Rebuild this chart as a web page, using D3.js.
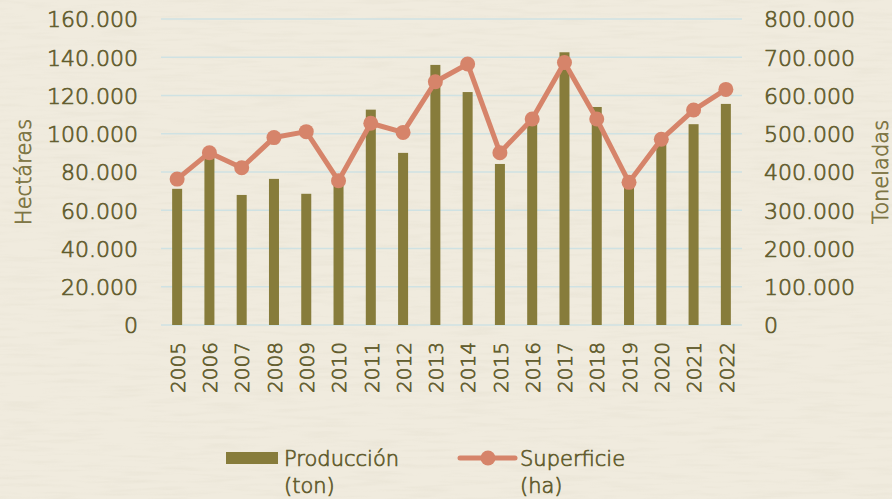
<!DOCTYPE html>
<html>
<head>
<meta charset="utf-8">
<script src="https://cdn.jsdelivr.net/npm/d3@7"></script>
<style>
  html, body { margin: 0; padding: 0; background: #efe9da; }
  svg { display: block; }
  text { font-family: "DejaVu Sans", sans-serif; font-weight: 200; }
</style>
</head>
<body>
<svg id="chart" width="892" height="499"></svg>
<script>
const years = ["2005","2006","2007","2008","2009","2010","2011","2012","2013","2014","2015","2016","2017","2018","2019","2020","2021","2022"];
const produccion = [356000, 440000, 340000, 382000, 343000, 366000, 563000, 450000, 680000, 609000, 421000, 528000, 713000, 570000, 361000, 475000, 525000, 578000];
const superficie = [76300, 90100, 82200, 98000, 101100, 75400, 105500, 100700, 127200, 136500, 90100, 107700, 137200, 107700, 74600, 97100, 112400, 123200];
const leftTicks = [0, 20000, 40000, 60000, 80000, 100000, 120000, 140000, 160000];
const rightTicks = [0, 100000, 200000, 300000, 400000, 500000, 600000, 700000, 800000];
const leftTitle = "Hectáreas";
const rightTitle = "Toneladas";
const legendBar = ["Producción", "(ton)"];
const legendLine = ["Superficie", "(ha)"];

const svg = d3.select("#chart");
const W = 892, H = 499;
const plot = {left: 161, right: 742, top: 19, bottom: 325};

// background texture
const defs = svg.append("defs");
const filt = defs.append("filter").attr("id", "paper").attr("x", 0).attr("y", 0).attr("width", "100%").attr("height", "100%");
filt.append("feTurbulence").attr("type", "fractalNoise").attr("baseFrequency", "0.02 0.25").attr("numOctaves", 3).attr("seed", 7).attr("result", "noise");
filt.append("feColorMatrix").attr("in", "noise").attr("type", "matrix")
  .attr("values", "0 0 0 0 0.62  0 0 0 0 0.58  0 0 0 0 0.46  0 0 0 -1.4 0.78");
svg.append("rect").attr("width", W).attr("height", H).attr("fill", "#f0ebde");
svg.append("rect").attr("width", W).attr("height", H).attr("filter", "url(#paper)").attr("opacity", 0.22);

const x = d3.scalePoint().domain(years).range([plot.left, plot.right]).padding(0.5);
const yL = d3.scaleLinear().domain([0, 160000]).range([plot.bottom, plot.top]);
const yR = d3.scaleLinear().domain([0, 800000]).range([plot.bottom, plot.top]);
const barW = x.step() * 0.31;

const loc = d3.formatLocale({decimal: ",", thousands: ".", grouping: [3], currency: ["", ""]});
const fmt = loc.format(",");

const textCol = "#615b2c";
const titleCol = "#7d7443";
const sw = 0.7;

function styleText(sel, size, col) {
  sel.attr("font-size", size).attr("fill", col).attr("font-family", "DejaVu Sans").attr("font-weight", 200)
     .attr("stroke", col).attr("stroke-width", sw).attr("paint-order", "stroke");
}

// gridlines
svg.append("g").selectAll("line").data(leftTicks).join("line")
  .attr("x1", plot.left).attr("x2", plot.right)
  .attr("y1", d => yL(d)).attr("y2", d => yL(d))
  .attr("stroke", "#cfe2e3").attr("stroke-width", 1.5);

// left axis
const axL = svg.append("g").attr("transform", `translate(${plot.left - 23},0)`)
  .call(d3.axisLeft(yL).tickValues(leftTicks).tickFormat(fmt).tickSize(0).tickPadding(0));
axL.select(".domain").remove();
styleText(axL.selectAll("text").attr("dy", "0.36em"), 22, textCol);

// right axis
const axR = svg.append("g").attr("transform", `translate(${plot.right + 22},0)`)
  .call(d3.axisRight(yR).tickValues(rightTicks).tickFormat(fmt).tickSize(0).tickPadding(0));
axR.select(".domain").remove();
styleText(axR.selectAll("text").attr("dy", "0.36em"), 22, textCol);

// x axis labels
const axX = svg.append("g").attr("transform", `translate(0,${plot.bottom + 10})`)
  .call(d3.axisBottom(x).tickSize(0).tickPadding(0));
axX.select(".domain").remove();
styleText(axX.selectAll("text")
  .attr("transform", "rotate(-90)")
  .attr("text-anchor", "end")
  .attr("x", -7).attr("y", 0).attr("dy", "0.36em"), 20, textCol);

// axis titles
styleText(svg.append("text").attr("transform", `translate(31,172) rotate(-90)`)
  .attr("text-anchor", "middle").text(leftTitle), 21, titleCol);
styleText(svg.append("text").attr("transform", `translate(888,172) rotate(-90)`)
  .attr("text-anchor", "middle").text(rightTitle), 21, titleCol);

// bars
const barCol = "#877c3b";
svg.append("g").selectAll("rect").data(years).join("rect")
  .attr("x", (d) => x(d) - barW / 2)
  .attr("width", barW)
  .attr("y", (d, i) => yR(produccion[i]))
  .attr("height", (d, i) => yR(0) - yR(produccion[i]))
  .attr("fill", barCol);

// line
const lineCol = "#d6846a";
const line = d3.line().x((d, i) => x(years[i])).y(d => yL(d));
svg.append("path").datum(superficie).attr("d", line)
  .attr("fill", "none").attr("stroke", lineCol).attr("stroke-width", 5).attr("stroke-linejoin", "round");
svg.append("g").selectAll("circle").data(superficie).join("circle")
  .attr("cx", (d, i) => x(years[i])).attr("cy", d => yL(d)).attr("r", 7.5).attr("fill", lineCol);

// legend
const lg = svg.append("g");
lg.append("rect").attr("x", 226).attr("y", 452).attr("width", 52).attr("height", 12).attr("fill", barCol);
styleText(lg.append("text").attr("x", 284).attr("y", 466).text(legendBar[0]), 21, textCol);
styleText(lg.append("text").attr("x", 284).attr("y", 493).text(legendBar[1]), 21, textCol);
lg.append("line").attr("x1", 460).attr("x2", 515).attr("y1", 458).attr("y2", 458)
  .attr("stroke", lineCol).attr("stroke-width", 5).attr("stroke-linecap", "round");
lg.append("circle").attr("cx", 488).attr("cy", 458).attr("r", 7.5).attr("fill", lineCol);
styleText(lg.append("text").attr("x", 520).attr("y", 466).text(legendLine[0]), 21, textCol);
styleText(lg.append("text").attr("x", 520).attr("y", 493).text(legendLine[1]), 21, textCol);
</script>
</body>
</html>
